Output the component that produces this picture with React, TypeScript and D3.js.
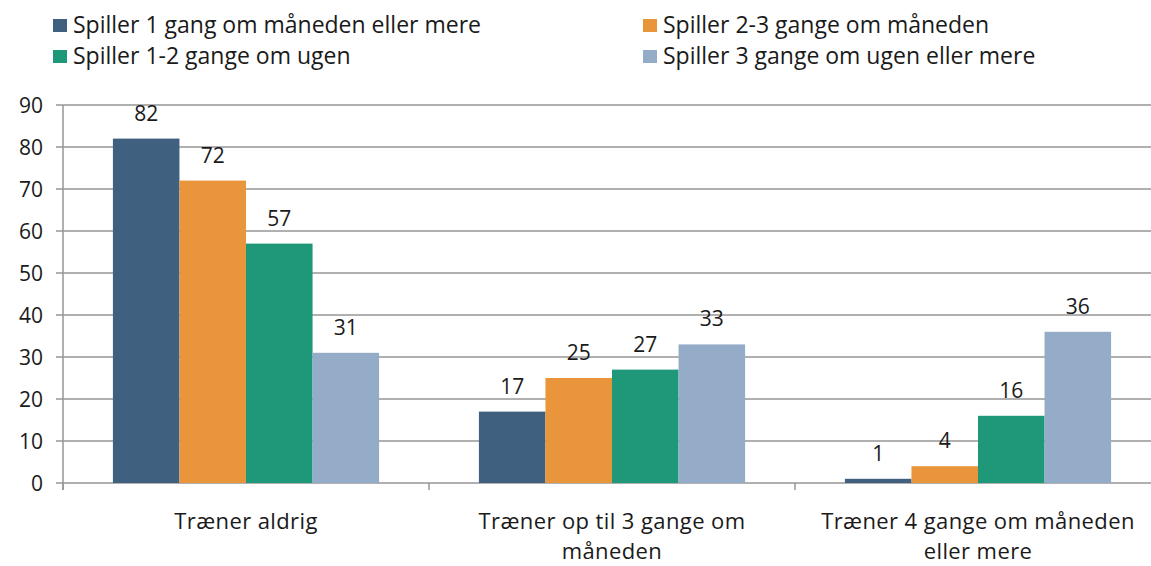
import React from "react";
import * as d3 from "d3";

const categories = [
  ["Træner aldrig"],
  ["Træner op til 3 gange om", "måneden"],
  ["Træner 4 gange om måneden", "eller mere"],
];
const seriesNames = [
  "Spiller 1 gang om måneden eller mere",
  "Spiller 2-3 gange om måneden",
  "Spiller 1-2 gange om ugen",
  "Spiller 3 gange om ugen eller mere",
];
const seriesColors = ["#3F617F", "#E9953B", "#1F987A", "#95ACC9"];
const values = [
  [82, 17, 1],
  [72, 25, 4],
  [57, 27, 16],
  [31, 33, 36],
];
const yTicks = [0, 10, 20, 30, 40, 50, 60, 70, 80, 90];

const W = 1151;
const H = 566;
const left = 63;
const right = 1161;
const top = 105;
const bottom = 483;
const font = "'Open Sans', Lato, sans-serif";
const gridColor = "#969696";

export default function App() {
  const y = d3.scaleLinear().domain([0, 90]).range([bottom, top]);
  const x0 = d3
    .scaleBand<number>()
    .domain(d3.range(categories.length))
    .range([left, right]);
  const x1 = d3
    .scaleBand<number>()
    .domain(d3.range(seriesNames.length))
    .range([0, x0.bandwidth()])
    .paddingOuter(0.75)
    .paddingInner(0);

  return (
    <div style={{ position: "absolute", left: 0, top: 0 }}>
      <style>{"body{margin:0;overflow:hidden}"}</style>
      <svg width={W} height={H} style={{ display: "block" }} fontFamily={font}>
        {/* legend: two columns, two rows */}
        {seriesNames.map((name, i) => {
          const lx = i % 2 === 0 ? 53 : 643;
          const ly = i < 2 ? 19 : 50;
          return (
            <g key={name} transform={`translate(${lx},${ly})`}>
              <rect width={14} height={13} fill={seriesColors[i]} />
              <text x={20} y={14} fontSize={23} fill="#1a1a1a">
                {name}
              </text>
            </g>
          );
        })}

        {/* gridlines + y labels */}
        {yTicks.map((t) => (
          <g key={t}>
            <line
              x1={56}
              x2={right}
              y1={y(t)}
              y2={y(t)}
              stroke={gridColor}
              strokeWidth={1.5}
            />
            <text
              x={43}
              y={y(t) + 8}
              textAnchor="end"
              fontSize={21}
              fill="#1a1a1a"
            >
              {t}
            </text>
          </g>
        ))}
        <line x1={left} x2={left} y1={top} y2={bottom + 7} stroke={gridColor} strokeWidth={1.5} />
        {categories.map((_, ci) => (
          <line
            key={ci}
            x1={x0(ci)!}
            x2={x0(ci)!}
            y1={bottom}
            y2={bottom + 7}
            stroke={gridColor}
            strokeWidth={1.5}
          />
        ))}

        {/* bars */}
        {values.map((row, si) =>
          row.map((v, ci) => {
            const bx = x0(ci)! + x1(si)!;
            return (
              <g key={`${si}-${ci}`}>
                <rect
                  x={bx}
                  y={y(v)}
                  width={x1.bandwidth()}
                  height={bottom - y(v)}
                  fill={seriesColors[si]}
                />
                <text
                  x={bx + x1.bandwidth() / 2}
                  y={y(v) - 18}
                  textAnchor="middle"
                  fontSize={21}
                  fill="#1a1a1a"
                >
                  {v}
                </text>
              </g>
            );
          })
        )}

        {/* category labels */}
        {categories.map((lines, ci) => (
          <text
            key={ci}
            x={x0(ci)! + x0.bandwidth() / 2}
            y={529}
            textAnchor="middle"
            fontSize={22}
            letterSpacing={0.4}
            fill="#1a1a1a"
          >
            {lines.map((l, li) => (
              <tspan key={li} x={x0(ci)! + x0.bandwidth() / 2} dy={li === 0 ? 0 : 30}>
                {l}
              </tspan>
            ))}
          </text>
        ))}
      </svg>
    </div>
  );
}
